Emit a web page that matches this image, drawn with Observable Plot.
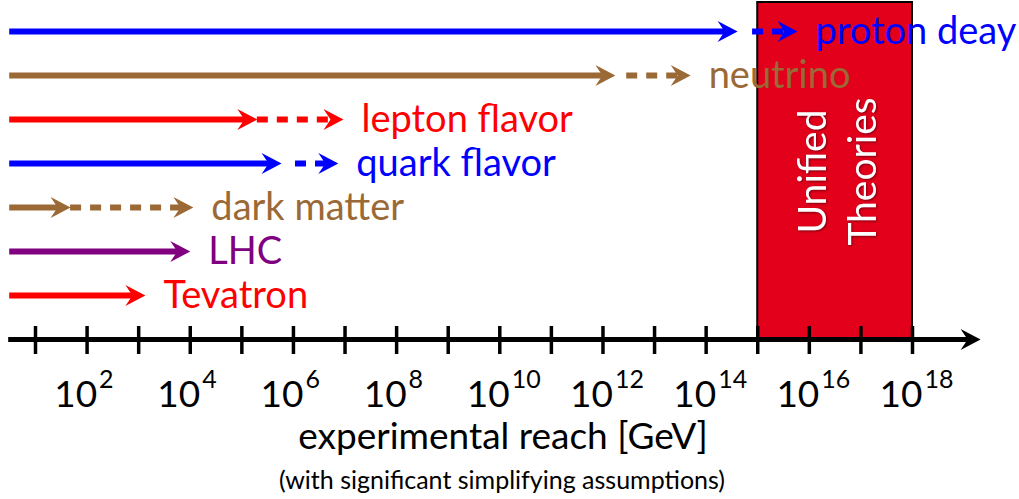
<!DOCTYPE html>
<html><head><meta charset="utf-8">
<script src="https://cdn.jsdelivr.net/npm/d3@7"></script>
<script src="https://cdn.jsdelivr.net/npm/@observablehq/plot@0.6"></script>
<style>html,body{margin:0;padding:0;background:#fff;}</style>
</head><body><div id="chart"></div>
<script>
// reach values are log10(GeV)
const labels = ["proton deay","neutrino","lepton flavor","quark flavor","dark matter","LHC","Tevatron"];
const colors = ["#0000ff","#9b6935","#ff0000","#0000ff","#9b6935","#800080","#ff0000"];
const reachStart = 0.5;
const solidEnd  = [14.61, 12.24, 5.30, 5.77, 1.68, 4.00, 3.13];
const dashStart = [14.90, 12.46, 5.30, 6.04, 1.68, null, null];
const dashEnd   = [15.77, 13.70, 6.97, 6.87, 4.06, null, null];
const unified = [15, 18];
const unifiedText = "Unified\nTheories";
const tickExps = [1,2,3,4,5,6,7,8,9,10,11,12,13,14,15,16,17,18];
const labelExps = [2,4,6,8,10,12,14,16,18];
const axisStart = 0.48, axisEnd = 19.32;
const xTitle = "experimental reach [GeV]";
const xNote = "(with significant simplifying assumptions)";

const rows = labels.map((label, i) => ({
  label, color: colors[i],
  x0: 10 ** reachStart, x1: 10 ** solidEnd[i],
  d0: dashStart[i] == null ? null : 10 ** dashStart[i],
  d1: dashEnd[i] == null ? null : 10 ** dashEnd[i]
}));
const dashed = rows.filter(d => d.d0 != null);
const heads = [
  ...rows.map(d => ({x: d.x1, y: d.label, color: d.color})),
  ...dashed.map(d => ({x: d.d1, y: d.label, color: d.color})),
  {x: 10 ** axisEnd, y: "axis", color: "#000"}
];
const arrowHead = {draw(ctx) { ctx.moveTo(0, 0); ctx.lineTo(-20, -10.5); ctx.lineTo(-13, 0); ctx.lineTo(-20, 10.5); ctx.closePath(); }};

const chart = Plot.plot({
  width: 1019, height: 499,
  marginLeft: 0, marginRight: 0, marginTop: 2, marginBottom: 159,
  x: {type: "log", domain: [1e1, 1e18], range: [35, 912], axis: null},
  y: {type: "point", domain: [...labels, "axis"], range: [30, 340], padding: 0, axis: null},
  color: {type: "identity"},
  style: {fontFamily: "Lato, sans-serif", background: "white", overflow: "visible"},
  marks: [
    Plot.rect([unified], {x1: d => 10 ** d[0], x2: d => 10 ** d[1], fill: "#e3001b", stroke: "#000", strokeWidth: 2}),
    Plot.text([unifiedText], {x: () => 10 ** ((unified[0] + unified[1]) / 2), frameAnchor: "middle", rotate: -90, fill: "white", fontSize: 39, lineHeight: 1.28, imageFilter: "drop-shadow(1px 1px 1px rgba(0,0,0,0.45))"}),
    Plot.ruleY(rows, {y: "label", x1: "x0", x2: "x1", stroke: "color", strokeWidth: 6, insetRight: 12}),
    Plot.ruleY(dashed, {y: "label", x1: "d0", x2: "d1", stroke: "color", strokeWidth: 6, strokeDasharray: "11,9", insetRight: 12}),
    Plot.ruleY([0], {y: () => "axis", x1: () => 10 ** axisStart, x2: () => 10 ** axisEnd, stroke: "#000", strokeWidth: 5, insetRight: 12}),
    Plot.ruleX(tickExps, {x: d => 10 ** d, y1: () => "axis", y2: () => "axis", stroke: "#000", strokeWidth: 3.5, insetTop: -13, insetBottom: -15}),
    Plot.dot(heads, {x: "x", y: "y", fill: "color", stroke: "none", symbol: arrowHead}),
    Plot.text(rows, {x: d => d.d1 ?? d.x1, y: "label", text: "label", fill: "color", textAnchor: "start", dx: 18, fontSize: 38, lineAnchor: "middle"}),
    Plot.text(labelExps, {x: d => 10 ** d, y: () => "axis", text: () => "10", textAnchor: "end", dx: 10, dy: 67, lineAnchor: "bottom", fontSize: 37, fill: "#000"}),
    Plot.text(labelExps, {x: d => 10 ** d, y: () => "axis", text: d => String(d), textAnchor: "start", dx: 12, dy: 48, lineAnchor: "bottom", fontSize: 25, fill: "#000"}),
    Plot.text([xTitle], {frameAnchor: "bottom", dx: -7, dy: 108, lineAnchor: "bottom", fontSize: 37, fill: "#000"}),
    Plot.text([xNote], {frameAnchor: "bottom", dx: -8, dy: 148, lineAnchor: "bottom", fontSize: 25, fill: "#000"})
  ]
});
document.getElementById("chart").appendChild(chart);
</script>
</body></html>
